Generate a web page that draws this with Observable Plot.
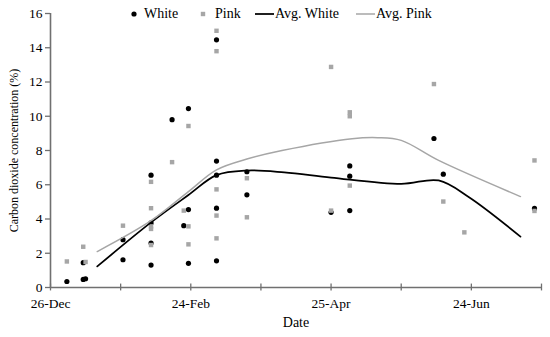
<!DOCTYPE html>
<html><head><meta charset="utf-8">
<script src="https://cdn.jsdelivr.net/npm/d3@7"></script>
<script src="https://cdn.jsdelivr.net/npm/@observablehq/plot@0.6"></script>
<style>
body{margin:0;background:#fff;}
#wrap{position:relative;width:550px;height:337px;}
#legend{position:absolute;left:0;top:0;}
</style></head><body><div id="wrap"></div>
<script>
// White measurements
const whiteDates = ["2019-01-02","2019-01-09","2019-01-09","2019-01-10","2019-01-26","2019-01-26",
  "2019-02-07","2019-02-07","2019-02-07","2019-02-07","2019-02-16","2019-02-21",
  "2019-02-23","2019-02-23","2019-02-23","2019-03-07","2019-03-07","2019-03-07","2019-03-07","2019-03-07",
  "2019-03-20","2019-03-20","2019-04-25","2019-05-03","2019-05-03","2019-05-03","2019-06-08","2019-06-12","2019-07-21"];
const whiteValues = [0.35,1.45,0.47,0.51,2.79,1.62,
  6.56,3.77,2.6,1.31,9.8,3.61,
  10.45,4.55,1.41,14.46,7.38,6.56,4.63,1.56,
  6.76,5.41,4.39,7.1,6.5,4.49,8.7,6.62,4.62];
// Pink measurements
const pinkDates = ["2019-01-02","2019-01-09","2019-01-10","2019-01-26",
  "2019-02-07","2019-02-07","2019-02-07","2019-02-07","2019-02-07","2019-02-16","2019-02-21",
  "2019-02-23","2019-02-23","2019-02-23","2019-03-07","2019-03-07","2019-03-07","2019-03-07","2019-03-07",
  "2019-03-20","2019-03-20","2019-04-25","2019-04-25","2019-05-03","2019-05-03","2019-05-03",
  "2019-06-08","2019-06-12","2019-06-21","2019-07-21","2019-07-21"];
const pinkValues = [1.52,2.38,1.49,3.61,
  6.17,4.63,3.57,3.42,2.48,7.32,4.49,
  9.43,3.57,2.52,14.99,13.8,5.73,4.2,2.87,
  6.38,4.1,12.88,4.49,10.23,10.0,5.95,
  11.88,5.02,3.22,7.42,4.47];
// Averages (smoothed lines)
const avgWhiteDates = ["2019-01-15","2019-02-07","2019-02-23","2019-03-07","2019-03-20","2019-04-05","2019-04-25","2019-05-25","2019-06-10","2019-06-23","2019-07-15"];
const avgWhiteValues = [1.23,3.8,5.4,6.56,6.83,6.72,6.42,6.05,6.25,5.27,2.97];
const avgPinkDates = ["2019-01-15","2019-02-07","2019-02-23","2019-03-07","2019-03-20","2019-04-04","2019-05-04","2019-05-15","2019-05-25","2019-06-10","2019-07-15"];
const avgPinkValues = [2.1,3.9,5.6,6.87,7.5,8.0,8.69,8.75,8.59,7.42,5.31];
// Axis ticks
const xTickDates = ["2018-12-26","2019-01-25","2019-02-24","2019-03-26","2019-04-25","2019-05-25","2019-06-24","2019-07-24"];
const xTickLabels = ["26-Dec","","24-Feb","","25-Apr","","24-Jun",""];
const yTicks = [0,2,4,6,8,10,12,14,16];

const parse = d3.utcParse("%Y-%m-%d");
const white = whiteDates.map((d,i)=>({date:parse(d), value:whiteValues[i]}));
const pink = pinkDates.map((d,i)=>({date:parse(d), value:pinkValues[i]}));
const avgWhite = avgWhiteDates.map((d,i)=>({date:parse(d), value:avgWhiteValues[i]}));
const avgPink = avgPinkDates.map((d,i)=>({date:parse(d), value:avgPinkValues[i]}));
const xTicks = xTickDates.map(parse);
const labelMap = new Map(xTicks.map((d,i)=>[+d, xTickLabels[i]]));
const axisColor = "#707070";
const pinkColor = "#a6a6a6";

const chart = Plot.plot({
  width: 550, height: 337,
  marginLeft: 50, marginRight: 9, marginTop: 13, marginBottom: 50,
  style: {fontFamily: "'Liberation Serif', serif", fontSize: "13.5px", color: "#000", background: "#fff"},
  x: {type: "utc", domain: [xTicks[0], xTicks[xTicks.length-1]]},
  y: {domain: [0, 16]},
  marks: [
    Plot.ruleY([0], {stroke: axisColor, strokeWidth: 1.6}),
    Plot.ruleX([xTicks[0]], {y1: 0, y2: 16, stroke: axisColor, strokeWidth: 1.6}),
    Plot.ruleX(xTicks, {x: d=>d, y1: -0.2, y2: 0.2, stroke: axisColor, strokeWidth: 1.3}),
    Plot.axisX({ticks: xTicks, tickSize: 0, tickPadding: 10.5, tickFormat: d=>labelMap.get(+d) ?? "", label: null, fontSize: 13.5}),
    Plot.axisY({ticks: yTicks, tickSize: 5, tickPadding: 3, stroke: axisColor, strokeWidth: 1.3, label: null, tickFormat: d=>String(d), fontSize: 13.5}),
    Plot.text(["Carbon dioxide concentration (%)"], {frameAnchor: "left", textAnchor: "middle", lineAnchor: "middle", dx: -36, rotate: -90, fontSize: 12}),
    Plot.text(["Date"], {frameAnchor: "bottom", lineAnchor: "middle", dy: 35, fontSize: 14}),
    Plot.dot(white, {x: "date", y: "value", r: 2.6, fill: "#000", stroke: "none"}),
    Plot.dot(pink, {x: "date", y: "value", symbol: "square", r: 2.5, fill: pinkColor, stroke: "none"}),
    Plot.line(avgWhite, {x: "date", y: "value", curve: "catmull-rom", stroke: "#000", strokeWidth: 1.75}),
    Plot.line(avgPink, {x: "date", y: "value", curve: "catmull-rom", stroke: pinkColor, strokeWidth: 1.5})
  ]
});
const wrap = document.getElementById("wrap");
wrap.appendChild(chart);

// Legend overlay
const legendItems = [
  {label: "White", kind: "dot", color: "#000", sx: 134, tx: 144},
  {label: "Pink", kind: "square", color: pinkColor, sx: 203, tx: 215},
  {label: "Avg. White", kind: "line", color: "#000", sx: 255, tx: 275, w: 19, sw: 1.75},
  {label: "Avg. Pink", kind: "line", color: pinkColor, sx: 356, tx: 376, w: 19, sw: 1.5}
];
const lg = d3.select(wrap).append("svg").attr("id","legend").attr("width",550).attr("height",30)
  .style("font-family","'Liberation Serif', serif").style("font-size","14px");
for (const it of legendItems) {
  if (it.kind === "dot") lg.append("circle").attr("cx", it.sx).attr("cy", 14).attr("r", 2.6).attr("fill", it.color);
  else if (it.kind === "square") lg.append("rect").attr("x", it.sx-2.2).attr("y", 11.8).attr("width", 4.4).attr("height", 4.4).attr("fill", it.color);
  else lg.append("line").attr("x1", it.sx).attr("x2", it.sx+it.w).attr("y1", 14).attr("y2", 14).attr("stroke", it.color).attr("stroke-width", it.sw);
  lg.append("text").attr("x", it.tx).attr("y", 17.8).attr("fill","#000").text(it.label);
}
</script></body></html>
